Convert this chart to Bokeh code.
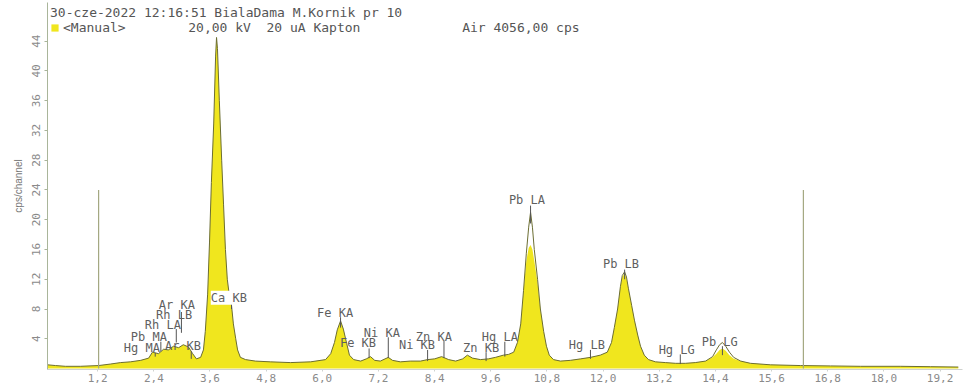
from bokeh.plotting import figure
from bokeh.models import (ColumnDataSource, FixedTicker, Legend, LegendItem)
from bokeh.core.properties import value
from bokeh.embed import file_html
from bokeh.resources import INLINE

# ---- data (energy in keV, counts in cps/channel) ----
energy = [0.13, 0.30, 0.51, 0.83, 1.22, 1.47, 1.69, 1.90, 2.12, 2.29, 2.37, 2.50, 2.61,
          2.71, 2.82, 2.93, 3.03, 3.14, 3.23, 3.31, 3.40, 3.46, 3.50, 3.55, 3.59, 3.63,
          3.68, 3.72, 3.74, 3.76, 3.80, 3.85, 3.89, 3.93, 3.97, 4.02, 4.06, 4.10, 4.15,
          4.19, 4.25, 4.36, 4.57, 4.89, 5.32, 5.75, 6.07, 6.18, 6.26, 6.32, 6.39, 6.45,
          6.52, 6.58, 6.67, 6.82, 6.94, 7.03, 7.12, 7.24, 7.41, 7.50, 7.67, 7.88, 8.10,
          8.25, 8.40, 8.55, 8.70, 8.85, 9.00, 9.10, 9.21, 9.38, 9.55, 9.70, 9.87, 9.98,
          10.09, 10.17, 10.24, 10.30, 10.36, 10.41, 10.45, 10.49, 10.53, 10.60, 10.66,
          10.73, 10.79, 10.85, 10.94, 11.09, 11.30, 11.52, 11.73, 11.94, 12.09, 12.18,
          12.24, 12.31, 12.37, 12.41, 12.46, 12.50, 12.54, 12.61, 12.67, 12.74, 12.80,
          12.88, 12.97, 13.12, 13.33, 13.55, 13.76, 13.97, 14.19, 14.34, 14.42, 14.49,
          14.55, 14.62, 14.70, 14.79, 14.94, 15.15, 15.58, 16.22, 16.86, 17.50, 18.35,
          19.00, 19.59]

counts_line = [0.5, 0.4, 0.3, 0.3, 0.4, 0.6, 0.8, 0.9, 1.1, 1.4, 2.2, 2.0, 2.6,
               2.5, 3.0, 2.8, 3.2, 2.9, 2.0, 1.3, 1.5, 2.5, 5.0, 10.0, 17.0, 25.0,
               33.0, 42.0, 44.5, 43.0, 36.0, 28.0, 22.0, 16.0, 12.0, 9.5, 8.5, 6.0, 4.0,
               2.5, 1.5, 1.2, 1.0, 0.9, 0.8, 0.9, 1.2, 2.0, 3.5, 5.2, 6.4, 5.3,
               3.4, 1.8, 1.2, 1.0, 1.3, 1.6, 1.1, 1.0, 1.5, 1.1, 0.9, 1.0, 1.0,
               1.2, 1.3, 1.6, 1.2, 1.0, 1.3, 1.8, 1.4, 1.2, 1.3, 1.5, 1.8, 1.9,
               2.2, 3.5, 6.0, 10.5, 15.5, 19.0, 21.0, 19.0, 16.0, 12.0, 8.0,
               5.0, 3.0, 1.8, 1.2, 1.0, 1.1, 1.3, 1.5, 1.8, 2.2, 3.5,
               5.5, 8.0, 11.0, 12.5, 13.0, 12.3, 10.8, 8.5, 6.5, 4.5, 3.0,
               1.8, 1.2, 0.9, 0.8, 0.7, 0.7, 0.8, 1.0, 1.6, 2.5, 3.2,
               3.5, 3.0, 2.2, 1.5, 1.0, 0.7, 0.5, 0.4, 0.35, 0.3, 0.3,
               0.25, 0.2]

counts_fill = [0.5, 0.4, 0.3, 0.3, 0.4, 0.6, 0.8, 0.9, 1.1, 1.4, 2.2, 2.0, 2.6,
               2.5, 3.0, 2.8, 3.2, 2.9, 2.0, 1.3, 1.5, 2.5, 5.0, 10.0, 17.0, 25.0,
               33.0, 42.0, 44.5, 43.0, 36.0, 28.0, 22.0, 16.0, 12.0, 9.5, 8.5, 6.0, 4.0,
               2.5, 1.5, 1.2, 1.0, 0.9, 0.8, 0.9, 1.2, 2.0, 3.5, 5.2, 6.4, 5.3,
               3.4, 1.8, 1.2, 1.0, 1.3, 1.6, 1.1, 1.0, 1.5, 1.1, 0.9, 1.0, 1.0,
               1.2, 1.3, 1.6, 1.2, 1.0, 1.3, 1.8, 1.4, 1.2, 1.3, 1.5, 1.8, 1.9,
               2.2, 3.5, 6.0, 10.5, 14.5, 16.2, 16.6, 16.0, 14.5, 11.5, 8.0,
               5.0, 3.0, 1.8, 1.2, 1.0, 1.1, 1.3, 1.5, 1.8, 2.2, 3.5,
               5.5, 8.0, 11.0, 12.3, 12.8, 12.1, 10.8, 8.5, 6.5, 4.5, 3.0,
               1.8, 1.2, 0.9, 0.8, 0.7, 0.7, 0.8, 1.0, 1.5, 2.0, 2.5,
               2.7, 2.4, 1.8, 1.3, 1.0, 0.7, 0.5, 0.4, 0.35, 0.3, 0.3,
               0.25, 0.2]

x_ticks = [1.2, 2.4, 3.6, 4.8, 6.0, 7.2, 8.4, 9.6, 10.8, 12.0, 13.2, 14.4, 15.6, 16.8, 18.0, 19.2]
x_tick_labels = ["1,2", "2,4", "3,6", "4,8", "6,0", "7,2", "8,4", "9,6", "10,8", "12,0",
                 "13,2", "14,4", "15,6", "16,8", "18,0", "19,2"]
y_ticks = [4, 8, 12, 16, 20, 24, 28, 32, 36, 40, 44]

roi_energy = [1.22, 16.28]
roi_height = [24, 24]

# peak identification labels
peak_names = ["Pb  LA", "Pb  LB", "Fe  KA", "Pb  LG", "Hg  LG", "Hg  LB", "Hg  LA",
              "Zn  KB", "Zn  KA", "Ni  KB", "Ni  KA", "Fe  KB", "Ar  KA", "Rh  LB",
              "Rh  LA", "Pb  MA", "Hg  MA", "Ar  KB"]
peak_label_x = [10.45, 12.46, 6.35, 14.57, 13.65, 11.73, 9.87, 9.47, 8.46, 8.10, 7.35,
                6.84, 2.97, 2.91, 2.67, 2.37, 2.22, 3.10]
peak_label_y = [22.7, 14.0, 7.5, 3.6, 2.55, 3.1, 4.2, 2.8, 4.3, 3.1, 4.8, 3.4, 8.6,
                7.2, 5.9, 4.3, 2.7, 3.0]
boxed_names = ["Ca  KB"]
boxed_label_x = [4.08]
boxed_label_y = [9.5]
marker_x = [10.45, 12.46, 6.39, 14.55, 13.65, 11.73, 9.90, 9.50, 8.60, 8.25, 7.41, 7.00,
            2.99, 2.88, 2.55, 2.43, 3.20, 4.06]
marker_top = [21.9, 13.3, 6.9, 3.0, 1.9, 2.5, 3.6, 2.2, 3.7, 2.5, 4.2, 2.7, 7.6, 5.3,
              3.6, 2.1, 2.3, 8.9]
marker_bottom = [19.5, 12.0, 5.5, 1.8, 0.6, 1.3, 1.6, 1.0, 1.4, 1.0, 1.4, 1.4, 4.8, 3.5,
                 2.3, 1.6, 1.3, 8.0]

header_line1 = "30-cze-2022 12:16:51 BialaDama M.Kornik pr 10"
nb = "\u00a0"
header_line2 = "<Manual>" + nb * 8 + "20,00 kV" + nb * 2 + "20 uA Kapton" + nb * 13 + "Air 4056,00 cps"

MONO = "DejaVu Sans Mono"

p = figure(width=972, height=384, x_range=(0.128, 19.68), y_range=(-0.13, 49.2),
           output_backend="svg", toolbar_location=None,
           min_border_left=47, min_border_right=10, min_border_top=2, min_border_bottom=14)
p.background_fill_color = "white"
p.border_fill_color = "white"
p.outline_line_color = None
p.xgrid.visible = False
p.ygrid.visible = False

src = ColumnDataSource(dict(x=energy, yl=counts_line, yf=counts_fill))
area = p.varea(x="x", y1=0, y2="yf", source=src, fill_color="#f0e61e")
p.line(x="x", y="yl", source=src, line_color="#6b6d32", line_width=1)

p.segment(x0=roi_energy, y0=[0, 0], x1=roi_energy, y1=roi_height,
          line_color="#a4a882", line_width=1.2)

p.segment(x0=marker_x, y0=marker_bottom, x1=marker_x, y1=marker_top,
          line_color="#555555", line_width=1)

lab_src = ColumnDataSource(dict(x=peak_label_x, y=peak_label_y, t=peak_names))
p.text(x="x", y="y", text="t", source=lab_src, text_font=value(MONO),
       text_font_size="12px", text_color="#5f5f5f", text_align="center",
       text_baseline="middle")

box_src = ColumnDataSource(dict(x=boxed_label_x, y=boxed_label_y, t=boxed_names))
p.text(x="x", y="y", text="t", source=box_src, text_font=value(MONO),
       text_font_size="12px", text_color="#5f5f5f", text_align="center",
       text_baseline="middle", background_fill_color="white")

# axes
p.xaxis.ticker = FixedTicker(ticks=x_ticks)
p.xaxis.major_label_overrides = {t: l for t, l in zip(x_ticks, x_tick_labels)}
p.xaxis.axis_line_color = "#cfd2cf"
p.xaxis.major_tick_line_color = "#cfd2cf"
p.xaxis.major_tick_out = 2
p.xaxis.major_tick_in = 0
p.xaxis.minor_tick_line_color = None
p.xaxis.major_label_standoff = 2
p.xaxis.major_label_text_font = MONO
p.xaxis.major_label_text_font_size = "11px"
p.xaxis.major_label_text_color = "#8a8a8a"

p.yaxis.ticker = FixedTicker(ticks=y_ticks)
p.yaxis.axis_line_color = "#a9b59a"
p.yaxis.major_tick_line_color = "#a9b59a"
p.yaxis.major_tick_out = 3
p.yaxis.major_tick_in = 0
p.yaxis.minor_tick_line_color = None
p.yaxis.major_label_orientation = "vertical"
p.yaxis.major_label_standoff = 4
p.yaxis.major_label_text_font = MONO
p.yaxis.major_label_text_font_size = "11px"
p.yaxis.major_label_text_color = "#8a8a8a"
p.yaxis.axis_label = "cps/channel"
p.yaxis.axis_label_text_font = "Liberation Sans"
p.yaxis.axis_label_text_font_style = "normal"
p.yaxis.axis_label_text_font_size = "10px"
p.yaxis.axis_label_text_color = "#777777"
p.yaxis.axis_label_standoff = 6

legend = Legend(items=[LegendItem(label=header_line2, renderers=[area])],
                location="top_left", title=header_line1)
legend.title_text_font = MONO
legend.title_text_font_size = "13px"
legend.title_text_font_style = "normal"
legend.title_text_color = "#555555"
legend.title_standoff = 0
legend.label_text_font = MONO
legend.label_text_font_size = "13px"
legend.label_text_color = "#555555"
legend.glyph_width = 9
legend.glyph_height = 9
legend.label_standoff = 4
legend.label_height = 14
legend.padding = 3
legend.margin = 0
legend.spacing = 0
legend.background_fill_alpha = 0
legend.border_line_alpha = 0
p.add_layout(legend)

open("out.html", "w").write(file_html(p, INLINE))
